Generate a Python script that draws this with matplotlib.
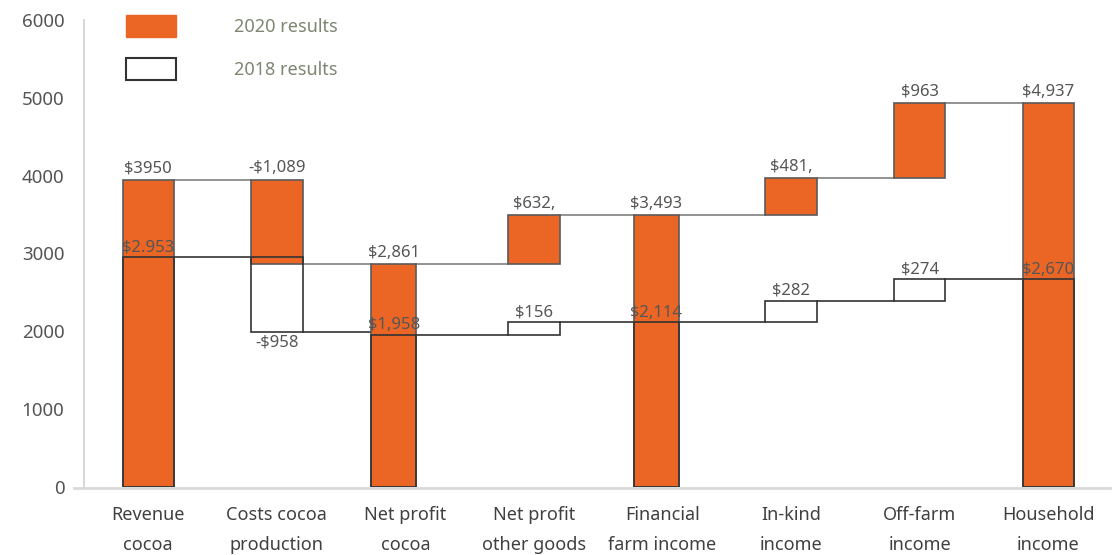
import matplotlib.pyplot as plt
from matplotlib.patches import Patch

plt.rcParams['font.family'] = ['Noto Sans', 'DejaVu Sans']

categories = ["Revenue\ncocoa", "Costs cocoa\nproduction", "Net profit\ncocoa",
              "Net profit\nother goods", "Financial\nfarm income", "In-kind\nincome",
              "Off-farm\nincome", "Household\nincome"]
kinds = ["total", "delta", "total", "delta", "total", "delta", "delta", "total"]

values_2020 = [3950, -1089, 2861, 632, 3493, 481, 963, 4937]
labels_2020 = ["$3950", "-$1,089", "$2,861", "$632,", "$3,493", "$481,", "$963", "$4,937"]

values_2018 = [2953, -958, 1958, 156, 2114, 282, 274, 2670]
labels_2018 = ["$2.953", "-$958", "$1,958", "$156", "$2,114", "$282", "$274", "$2,670"]

# bar widths and small horizontal shifts as in the original layout
widths = [0.4, 0.4, 0.35, 0.4, 0.35, 0.4, 0.4, 0.4]
shifts = [0, 0, -0.09, 0, -0.05, 0, 0, 0]

orange = "#EB6625"
txt = "#555555"


def steps(values):
    bottoms, heights, levels = [], [], []
    level = 0
    for k, v in zip(kinds, values):
        if k == "total":
            bottoms.append(0)
            heights.append(v)
            level = v
        else:
            bottoms.append(level)
            heights.append(v)
            level += v
        levels.append(level)
    return bottoms, heights, levels


fig = plt.figure(figsize=(11.19, 5.55), dpi=100)
ax = fig.add_axes([0.075, 0.1225, 0.917, 0.8415])
x = list(range(len(categories)))
xb = [i + s for i, s in zip(x, shifts)]

b20, h20, l20 = steps(values_2020)
b18, h18, l18 = steps(values_2018)

ax.bar(xb, h20, bottom=b20, width=widths, color=orange, edgecolor="#5a5a5a",
       linewidth=1.2, zorder=2)
ax.bar(xb, h18, bottom=b18, width=widths, facecolor="none", edgecolor="#333333",
       linewidth=1.2, zorder=3)

# connector lines
for i in range(len(x) - 1):
    x0 = xb[i] + widths[i] / 2
    x1 = xb[i + 1] - widths[i + 1] / 2
    ax.plot([x0, x1], [l20[i], l20[i]], color="#808080", lw=1.2, zorder=1)
    ax.plot([x0, x1], [l18[i], l18[i]], color="#333333", lw=1.2, zorder=1)

for i in x:
    top = max(b20[i], b20[i] + h20[i])
    ax.text(xb[i], top + 40, labels_2020[i], ha="center", va="bottom",
            fontsize=12, color=txt, zorder=4)
    if h18[i] < 0:
        ax.text(xb[i], b18[i] + h18[i] - 30, labels_2018[i], ha="center",
                va="top", fontsize=12, color=txt, zorder=4)
    else:
        top = b18[i] + h18[i]
        ax.text(xb[i], top + 20, labels_2018[i], ha="center", va="bottom",
                fontsize=12, color=txt, zorder=4)

ax.set_xlim(-0.5, 7.48)
ax.set_ylim(0, 6000)
ax.set_yticks(range(0, 6001, 1000))
ax.set_xticks(x)
ax.set_xticklabels(categories, fontsize=13, color="#404040", linespacing=1.8)
ax.tick_params(axis="x", length=0, pad=14)
ax.tick_params(axis="y", length=0, pad=14, labelsize=13.5, labelcolor=txt)

for s in ["top", "right", "bottom"]:
    ax.spines[s].set_visible(False)
ax.spines["left"].set_color("#d9d9d9")
ax.spines["left"].set_linewidth(1.5)
ax.plot([-0.01, 1.0], [-0.002, -0.002], transform=ax.transAxes, color="#d9d9d9",
        lw=2, clip_on=False, zorder=0)

handles = [Patch(facecolor=orange, edgecolor=orange),
           Patch(facecolor="white", edgecolor="#333333", linewidth=1.5)]
leg = ax.legend(handles, ["2020 results", "2018 results"], loc="upper left",
                bbox_to_anchor=(0.025, 1.045), frameon=False, fontsize=13,
                handlelength=2.8, handleheight=1.45, handletextpad=3.2,
                labelspacing=1.2, labelcolor="#7D8670")

fig.savefig("out.png", dpi=100)
